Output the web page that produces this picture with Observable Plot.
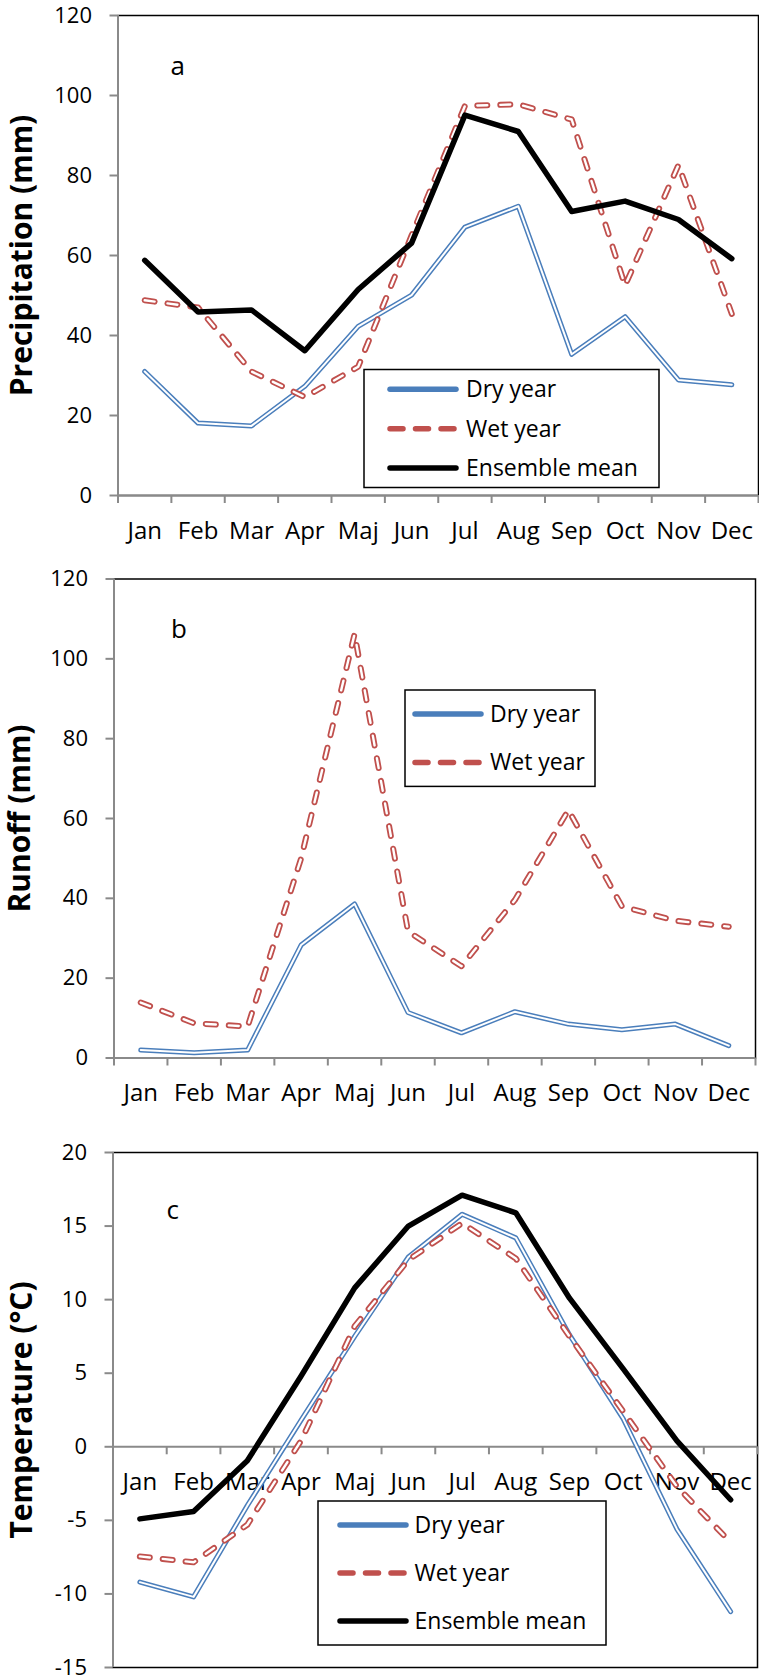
<!DOCTYPE html>
<html>
<head>
<meta charset="utf-8">
<script src="https://cdn.jsdelivr.net/npm/d3@7"></script>
<script src="https://cdn.jsdelivr.net/npm/@observablehq/plot@0.6"></script>
<style>
html, body { margin: 0; padding: 0; background: #fff; }
#chart { width: 759px; }
#chart svg { display: block; }
</style>
</head>
<body>
<div id="chart"></div>
<script>
// ---- Data ----
const months = ["Jan", "Feb", "Mar", "Apr", "Maj", "Jun", "Jul", "Aug", "Sep", "Oct", "Nov", "Dec"];
const seriesNames = ["Dry year", "Wet year", "Ensemble mean"];

const precipDry  = [31.0, 18.1, 17.4, 27.3, 42.3, 50.1, 67.1, 72.3, 35.3, 44.7, 28.9, 27.7];
const precipWet  = [48.8, 47.0, 31.0, 24.6, 32.2, 65.0, 97.4, 97.8, 94.0, 52.5, 82.6, 45.4];
const precipMean = [58.8, 45.9, 46.4, 36.2, 51.5, 63.1, 95.1, 91.0, 71.0, 73.6, 69.0, 59.2];

const runoffDry = [2.0, 1.3, 2.0, 28.3, 38.6, 11.4, 6.3, 11.6, 8.5, 7.1, 8.5, 3.1];
const runoffWet = [13.9, 8.7, 7.9, 50.0, 106.2, 31.7, 23.0, 39.6, 62.1, 38.0, 34.4, 32.9];

const tempDry  = [-9.2, -10.2, -4.0, 1.8, 7.5, 12.9, 15.8, 14.2, 7.6, 1.9, -5.6, -11.2];
const tempWet  = [-7.45, -7.85, -5.3, 0.4, 8.2, 12.7, 15.2, 12.8, 7.5, 2.4, -2.7, -6.5];
const tempMean = [-4.9, -4.4, -0.95, 4.8, 10.8, 15.0, 17.1, 15.9, 10.1, 5.3, 0.4, -3.6];

const precipTicks = [0, 20, 40, 60, 80, 100, 120];
const runoffTicks = [0, 20, 40, 60, 80, 100, 120];
const tempTicks = [-15, -10, -5, 0, 5, 10, 15, 20];

// ---- Styles ----
const BLUE = "#4a7ebb", RED = "#c0504d", GRAY = "#8a8a8a";
const FONT = "'Open Sans', 'Noto Sans', sans-serif";

function seriesMarks(name, vals) {
  const x = (d, i) => i + 0.5, y = d => d;
  if (name === "Dry year") return [
    Plot.line(vals, {x, y, stroke: BLUE, strokeWidth: 5, strokeLinejoin: "round"}),
    Plot.line(vals, {x, y, stroke: "white", strokeWidth: 2, strokeLinejoin: "round"})
  ];
  if (name === "Wet year") return [
    Plot.line(vals, {x, y, stroke: RED, strokeWidth: 6, strokeDasharray: "10,13", strokeLinecap: "round", strokeLinejoin: "round"}),
    Plot.line(vals, {x, y, stroke: "white", strokeWidth: 2.4, strokeDasharray: "10,13", strokeLinecap: "round", strokeLinejoin: "round"})
  ];
  return [Plot.line(vals, {x, y, stroke: "black", strokeWidth: 5.5, strokeLinejoin: "round"})];
}

const legendStyle = {
  "Dry year": {color: BLUE, dash: null},
  "Wet year": {color: RED, dash: "13,12.5"},
  "Ensemble mean": {color: "black", dash: null}
};

function drawLegend(svg, L) {
  const g = d3.select(svg).append("g").attr("font-family", FONT).attr("text-anchor", "start");
  g.append("rect")
    .attr("x", L.x0).attr("y", L.y0)
    .attr("width", L.x1 - L.x0).attr("height", L.y1 - L.y0)
    .attr("fill", "white").attr("stroke", "black").attr("stroke-width", 1.5);
  L.items.forEach((name, i) => {
    const y = L.rows[i];
    const st = legendStyle[name];
    g.append("line")
      .attr("x1", L.lx0).attr("x2", L.lx1).attr("y1", y).attr("y2", y)
      .attr("stroke", st.color).attr("stroke-width", 5.5)
      .attr("stroke-linecap", "round")
      .attr("stroke-dasharray", st.dash);
    g.append("text")
      .attr("x", L.tx).attr("y", y).attr("dy", "0.35em")
      .attr("text-anchor", "start")
      .attr("font-size", 23).attr("fill", "black")
      .text(name);
  });
}

function panel(cfg) {
  const {height, mt, mb, ml, mr, yDomain, yTicks, title, titleX, letter, letterDx, letterDy, series, legend} = cfg;
  const pxPerUnit = (height - mt - mb) / (yDomain[1] - yDomain[0]);
  const tickLen = 8 / pxPerUnit;
  const marks = [
    Plot.frame({stroke: "black", strokeWidth: 1.5}),
    Plot.ruleY([0], {stroke: GRAY, strokeWidth: 2}),
    Plot.ruleX(d3.range(13), {x: d => d, y1: 0, y2: -tickLen, stroke: GRAY, strokeWidth: 2}),
    Plot.ruleX([0], {stroke: GRAY, strokeWidth: 2}),
    Plot.axisY(yTicks, {tickSize: 8, tickPadding: 18, stroke: GRAY, strokeWidth: 2, fontSize: 22, label: null, tickFormat: d => String(d)}),
    Plot.text(months, {x: (d, i) => i + 0.5, y: 0, text: d => d, lineAnchor: "top", dy: 26, fontSize: 24}),
    Plot.text([letter], {frameAnchor: "top-left", dx: letterDx, dy: letterDy, fontSize: 26}),
    Plot.text([title], {frameAnchor: "left", dx: titleX - ml, rotate: -90, textAnchor: "middle", fontSize: 30, fontWeight: "bold"})
  ];
  series.forEach(([name, vals]) => marks.push(...seriesMarks(name, vals)));
  const svg = Plot.plot({
    width: 759,
    height,
    marginTop: mt, marginBottom: mb, marginLeft: ml, marginRight: mr,
    style: {fontFamily: FONT, fontSize: "22px", color: "black", background: "white", overflow: "visible"},
    x: {domain: [0, 12], axis: null},
    y: {domain: yDomain},
    marks
  });
  drawLegend(svg, legend);
  return svg;
}

const chart = document.getElementById("chart");

chart.appendChild(panel({
  height: 545, mt: 15, mb: 50, ml: 117.5, mr: 1,
  yDomain: [0, 120], yTicks: precipTicks,
  title: "Precipitation (mm)", titleX: 22,
  letter: "a", letterDx: 52.5, letterDy: 41,
  series: [[seriesNames[0], precipDry], [seriesNames[1], precipWet], [seriesNames[2], precipMean]],
  legend: {x0: 364, x1: 659, y0: 369.5, y1: 487.5, rows: [389.3, 428.8, 468], lx0: 390, lx1: 456, tx: 466,
           items: seriesNames}
}));

chart.appendChild(panel({
  height: 565, mt: 33.5, mb: 52.5, ml: 113.5, mr: 4,
  yDomain: [0, 120], yTicks: runoffTicks,
  title: "Runoff (mm)", titleX: 20,
  letter: "b", letterDx: 57, letterDy: 41,
  series: [[seriesNames[0], runoffDry], [seriesNames[1], runoffWet]],
  legend: {x0: 405, x1: 595, y0: 145, y1: 241.4, rows: [169, 217.4], lx0: 415, lx1: 481, tx: 490,
           items: seriesNames.slice(0, 2)}
}));

chart.appendChild(panel({
  height: 569, mt: 42, mb: 12, ml: 112.5, mr: 2,
  yDomain: [-15, 20], yTicks: tempTicks,
  title: "Temperature (°C)", titleX: 22,
  letter: "c", letterDx: 53.5, letterDy: 48,
  series: [[seriesNames[0], tempDry], [seriesNames[1], tempWet], [seriesNames[2], tempMean]],
  legend: {x0: 318, x1: 606, y0: 391, y1: 535, rows: [415, 463, 511], lx0: 340, lx1: 406, tx: 414.5,
           items: seriesNames}
}));
</script>
</body>
</html>
